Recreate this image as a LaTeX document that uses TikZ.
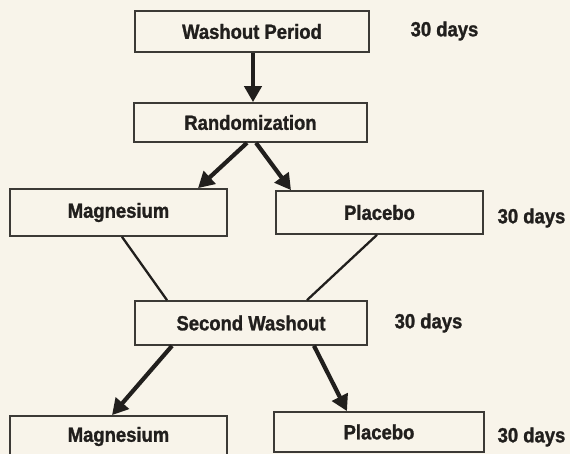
\documentclass[tikz,border=0pt]{standalone}
\usepackage{fontspec}
\setmainfont{Liberation Sans}[FakeStretch=0.9,FakeBold=1.3]
\usetikzlibrary{arrows.meta}
\definecolor{paper}{HTML}{F8F4EA}
\definecolor{ink}{HTML}{211F1D}
\definecolor{edge}{HTML}{3C3A36}
\tikzset{
  box/.style={draw=edge, line width=1.7pt, fill=paper, inner sep=0pt,
    font=\fontsize{20.5}{24}\selectfont\bfseries, text=ink},
  lbl/.style={font=\fontsize{20.5}{24}\selectfont\bfseries, text=ink, inner sep=0pt},
  arr/.style={draw=ink, line width=4.2pt, -{Triangle[length=16pt,width=17pt]}},
  link/.style={draw=ink, line width=2.3pt},
}
\begin{document}
\begin{tikzpicture}[x=1pt,y=-1pt]
\fill[paper] (0,0) rectangle (570,454);
\useasboundingbox (0,0) rectangle (570,454);
\begin{scope}
\clip (0,0) rectangle (570,454);
\node[box, minimum width=234pt, minimum height=41pt] (wash) at (252,31.5) {Washout Period};
\node[box, minimum width=233pt, minimum height=39pt] (rand) at (250.5,122.5) {Randomization};
\node[box, minimum width=217pt, minimum height=47pt] (mag1) at (118.5,212.5) {Magnesium};
\node[box, minimum width=207pt, minimum height=43pt] (plac1) at (379.5,212.5) {Placebo};
\node[box, minimum width=232pt, minimum height=44pt] (sec) at (251,323) {Second Washout};
\node[box, minimum width=217pt, minimum height=41pt] (mag2) at (118.5,436.5) {Magnesium};
\node[box, minimum width=210pt, minimum height=40pt] (plac2) at (379,432) {Placebo};

\node[lbl] (d1) at (444.5,31) {30 days};
\node[lbl] (d2) at (531.5,218) {30 days};
\node[lbl] (d3) at (428.5,323) {30 days};
\node[lbl] (d4) at (531.5,437) {30 days};

\draw[arr] ([xshift=1pt]wash.south) -- ([xshift=2.5pt]rand.north);
\draw[arr] ([xshift=-3.5pt]rand.south) -- ([xshift=79.5pt]mag1.north);
\draw[arr] ([xshift=5.5pt]rand.south) -- ([xshift=-88.5pt]plac1.north);
\draw[link] ([xshift=3.5pt]mag1.south) -- ([xshift=-84pt]sec.north);
\draw[link] ([xshift=-2.5pt]plac1.south) -- ([xshift=56pt]sec.north);
\draw[arr] ([xshift=-79pt]sec.south) -- ([xshift=-6.5pt]mag2.north);
\draw[arr] ([xshift=63pt]sec.south) -- ([xshift=-32pt]plac2.north);
\end{scope}
\end{tikzpicture}
\end{document}
